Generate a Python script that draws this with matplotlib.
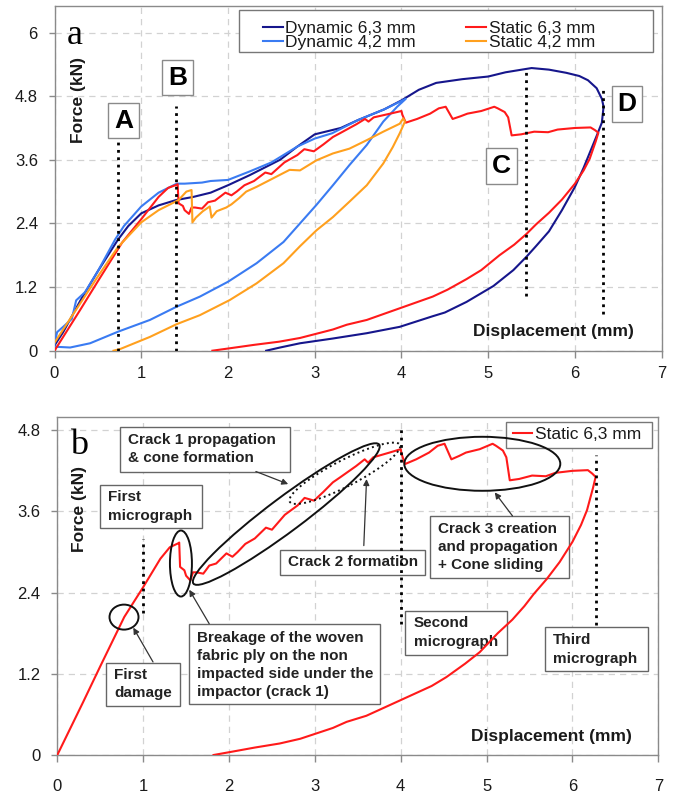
import matplotlib
matplotlib.use('Agg')
import matplotlib.pyplot as plt
import matplotlib.transforms as mtransforms
from matplotlib.patches import Ellipse, Rectangle

plt.rcParams['font.family'] = ['Liberation Sans', 'DejaVu Sans']

# ---------------- data ----------------
dyn63_disp = [0, 0.1, 0.3, 0.5, 0.73, 0.85, 1.0, 1.2, 1.4, 1.6, 1.8, 2.0, 2.25, 2.6, 2.8, 3.0,
              3.3, 3.5, 3.8, 4.0, 4.2, 4.4, 4.7, 5.0, 5.2, 5.5, 5.7, 5.9, 6.05, 6.15, 6.25,
              6.31, 6.33, 6.31, 6.25, 6.2, 6.1, 6.0, 5.85, 5.7, 5.55, 5.44, 5.29, 5.06, 4.75,
              4.5, 4.36, 3.98, 3.6, 3.21, 2.83, 2.6, 2.44]
dyn63_force = [0.1, 0.35, 0.95, 1.5, 2.09, 2.35, 2.59, 2.74, 2.84, 2.9, 2.98, 3.12, 3.31, 3.6, 3.85, 4.08,
               4.2, 4.35, 4.55, 4.72, 4.92, 5.05, 5.12, 5.17, 5.25, 5.33, 5.3, 5.24, 5.18, 5.1, 4.95,
               4.75, 4.6, 4.3, 4.05, 3.85, 3.45, 3.09, 2.65, 2.25, 1.97, 1.77, 1.52, 1.22, 0.92,
               0.72, 0.65, 0.45, 0.33, 0.23, 0.14, 0.06, 0.0]

dyn42_disp = [0, 0.03, 0.1, 0.2, 0.25, 0.35, 0.5, 0.7, 0.8, 1.0, 1.2, 1.41, 1.5, 1.7, 1.8, 2.0,
              2.25, 2.5, 2.8, 3.0, 3.2, 3.5, 3.8, 4.05,
              3.95, 3.79, 3.60, 3.40, 3.21, 3.02, 2.83, 2.64, 2.33, 2.0, 1.676, 1.408, 1.10,
              0.735, 0.41, 0.18, 0.006]
dyn42_force = [0.12, 0.35, 0.45, 0.6, 0.95, 1.1, 1.5, 2.1, 2.35, 2.72, 2.98, 3.15, 3.15, 3.17, 3.2, 3.22,
               3.38, 3.55, 3.85, 4.0, 4.1, 4.35, 4.55, 4.75,
               4.6, 4.32, 3.88, 3.50, 3.12, 2.75, 2.40, 2.05, 1.65, 1.30, 1.02, 0.83, 0.58,
               0.36, 0.14, 0.06, 0.075]

sta63_disp = [0, 0.3, 0.5, 0.78, 1.0, 1.2, 1.31, 1.41, 1.42, 1.43, 1.48, 1.5, 1.55, 1.58, 1.62, 1.7,
              1.73, 1.77, 1.85, 1.97, 2.04, 2.1, 2.19, 2.3, 2.43, 2.5, 2.65, 2.8, 2.88, 2.99, 3.1,
              3.21, 3.29, 3.48, 3.58, 3.62, 3.68, 3.87, 4.0, 4.01, 4.05, 4.18, 4.33, 4.43, 4.51,
              4.59, 4.68, 4.76, 4.92, 5.07, 5.11, 5.19, 5.23, 5.27, 5.38, 5.53, 5.69, 5.8, 6.0,
              6.18, 6.23, 6.27, 6.24, 6.17, 6.1, 6.0, 5.85, 5.7, 5.55, 5.44, 5.3, 5.13, 4.92,
              4.75, 4.53, 4.36, 3.98, 3.6, 3.37, 3.21, 2.83, 2.59, 2.3, 2.04, 1.82]
sta63_force = [0, 0.78, 1.31, 2.04, 2.48, 2.9, 3.07, 3.13, 3.14, 2.78, 2.73, 2.65, 2.58, 2.70, 2.70, 2.68,
               2.73, 2.80, 2.83, 2.98, 2.93, 3.0, 3.12, 3.2, 3.36, 3.33, 3.55, 3.69, 3.80, 3.76, 3.89,
               4.03, 4.10, 4.27, 4.37, 4.32, 4.40, 4.47, 4.52, 4.45, 4.30, 4.37, 4.47, 4.57, 4.60,
               4.37, 4.42, 4.47, 4.52, 4.60, 4.57, 4.50, 4.40, 4.06, 4.08, 4.13, 4.12, 4.17, 4.20,
               4.21, 4.16, 4.11, 3.95, 3.62, 3.4, 3.15, 2.85, 2.6, 2.38, 2.2, 2.0, 1.8, 1.52,
               1.35, 1.15, 1.02, 0.8, 0.58, 0.49, 0.4, 0.24, 0.17, 0.11, 0.05, 0.0]

sta42_disp = [0, 0.3, 0.5, 0.73, 1.0, 1.2, 1.43, 1.52, 1.58, 1.59, 1.63, 1.71, 1.79, 1.81, 1.87, 1.98,
              2.04, 2.13, 2.21, 2.33, 2.52, 2.71, 2.83, 3.02, 3.21, 3.40, 3.60, 3.79, 3.98, 4.02,
              4.04, 3.98, 3.90, 3.79, 3.60, 3.40, 3.21, 3.02, 2.83, 2.64, 2.33, 2.02, 1.676,
              1.408, 1.10, 0.755, 0.68]
sta42_force = [0.15, 0.9, 1.4, 1.95, 2.42, 2.65, 2.84, 3.0, 3.03, 2.42, 2.51, 2.63, 2.72, 2.51, 2.63, 2.70,
               2.76, 2.88, 3.0, 3.09, 3.25, 3.41, 3.40, 3.59, 3.72, 3.81, 3.97, 4.13, 4.28, 4.38,
               4.32, 4.10, 3.84, 3.53, 3.12, 2.81, 2.52, 2.27, 1.97, 1.65, 1.27, 0.955, 0.67,
               0.50, 0.26, 0.03, 0.0]

x_ticks = [0, 1, 2, 3, 4, 5, 6, 7]
ya_ticks = [0, 1.2, 2.4, 3.6, 4.8, 6]
ya_labels = ['0', '1.2', '2.4', '3.6', '4.8', '6']
yb_ticks = [0, 1.2, 2.4, 3.6, 4.8]
yb_labels = ['0', '1.2', '2.4', '3.6', '4.8']

labels_a = ['Dynamic 6,3 mm', 'Dynamic 4,2 mm', 'Static 6,3 mm', 'Static 4,2 mm']
colors_a = ['#16168c', '#3a7bf2', '#ff1a1a', '#ffa01e']

# point markers panel a (A, B, C, D)
mark_a_names = ['A', 'B', 'C', 'D']
mark_a_x = [0.73, 1.40, 5.44, 6.32]
mark_a_top = [3.96, 4.61, 5.32, 4.99]
mark_a_bottom = [0.0, 0.0, 1.03, 0.70]
mark_a_label_pos = [(0.795, 4.34), (1.42, 5.15), (5.15, 3.48), (6.60, 4.65)]

# micrograph markers panel b
mark_b_x = [1.0, 4.0, 6.27]
mark_b_top = [3.19, 4.83, 4.44]
mark_b_bottom = [2.10, 1.94, 1.92]

# ---------------- figure ----------------
fig = plt.figure(figsize=(6.82, 7.94), dpi=100)
axa = fig.add_axes([54.5 / 682, 1 - 350.7 / 794, 607.2 / 682, 344.7 / 794])
axb = fig.add_axes([57.3 / 682, 1 - 755 / 794, 601 / 682, 338.3 / 794])

TXT = '#1a1a1a'


def style(ax, ymax, yt, yl, xpad):
    ax.set_xlim(0, 7)
    ax.set_ylim(0, ymax)
    ax.set_xticks(x_ticks)
    ax.set_xticklabels([str(v) for v in x_ticks])
    ax.set_yticks(yt)
    ax.set_yticklabels(yl)
    ax.grid(True, color='#d2d2d2', linestyle=(0, (5, 4)), linewidth=0.9)
    ax.set_axisbelow(True)
    for s in ax.spines.values():
        s.set_color('#8a8a8a')
        s.set_linewidth(1.0)
    ax.tick_params(axis='x', direction='out', length=5, width=1, color='#8a8a8a',
                   pad=xpad, labelsize=12, labelcolor=TXT)
    ax.tick_params(axis='y', direction='out', length=4, width=1, color='#8a8a8a',
                   pad=8, labelsize=12, labelcolor=TXT)


style(axa, 6.5, ya_ticks, ya_labels, 6)
style(axb, 5.0, yb_ticks, yb_labels, 12)

# ---- panel a curves ----
series = [(dyn63_disp, dyn63_force), (dyn42_disp, dyn42_force),
          (sta63_disp, sta63_force), (sta42_disp, sta42_force)]
handles = []
for (xs, ys), lab, col in zip(series, labels_a, colors_a):
    h, = axa.plot(xs, ys, color=col, lw=1.5, label=lab, zorder=3)
    handles.append(h)

for x, t, b in zip(mark_a_x, mark_a_top, mark_a_bottom):
    axa.plot([x, x], [b, t], color='black', lw=2, linestyle=':', zorder=4)
for name, (lx, ly) in zip(mark_a_names, mark_a_label_pos):
    axa.text(lx, ly, name, fontsize=19, fontweight='bold', ha='center', va='center', color='black',
             zorder=6, bbox=dict(boxstyle='square,pad=0.22', fc='white', ec='#8a8a8a', lw=1))

axa.add_patch(Rectangle((0.304, 0.867), 0.681, 0.121, transform=axa.transAxes,
                        fc='white', ec='#777777', lw=1, zorder=5))
leg = axa.legend(handles=handles, ncol=2, loc='upper left', bbox_to_anchor=(0.343, 0.957),
                 frameon=False, fontsize=12.5, handlelength=1.15, handletextpad=0.15,
                 columnspacing=2.9, labelspacing=-0.06, borderpad=0, borderaxespad=0)
leg.set_zorder(6)
for t in leg.get_texts():
    t.set_color(TXT)

axa.text(0.274, 4.72, 'Force (kN)', rotation=90, ha='center', va='center',
         fontsize=12.5, fontweight='bold', color=TXT)
axa.text(5.75, 0.36, 'Displacement (mm)', ha='center', va='center',
         fontsize=12.5, fontweight='bold', color=TXT)
axa.text(0.236, 5.79, 'a', fontsize=26, family=['Liberation Serif', 'DejaVu Serif'],
         ha='center', va='baseline', color='black')

# ---- panel b ----
hb, = axb.plot(sta63_disp, sta63_force, color=colors_a[2], lw=1.5, label=labels_a[2], zorder=3)
for x, t, b in zip(mark_b_x, mark_b_top, mark_b_bottom):
    axb.plot([x, x], [b, t], color='black', lw=2, linestyle=':', zorder=4)

axb.add_patch(Rectangle((0.7466, 0.9066), 0.2424, 0.0784, transform=axb.transAxes,
                        fc='white', ec='#777777', lw=1, zorder=5))
legb = axb.legend(handles=[hb], loc='upper left', bbox_to_anchor=(0.759, 0.970), frameon=False,
                  fontsize=12.5, handlelength=1.05, handletextpad=0.17, borderpad=0, borderaxespad=0)
legb.set_zorder(6)
for t in legb.get_texts():
    t.set_color(TXT)

axb.text(0.26, 3.63, 'Force (kN)', rotation=90, ha='center', va='center',
         fontsize=12.5, fontweight='bold', color=TXT)
axb.text(5.75, 0.28, 'Displacement (mm)', ha='center', va='center',
         fontsize=12.5, fontweight='bold', color=TXT)
axb.text(0.253, 4.45, 'b', fontsize=26, family=['Liberation Serif', 'DejaVu Serif'],
         ha='center', va='baseline', color='black')

# annotation boxes: (x0, x1, y_bottom, y_top, text_x, [line ys], lines)
notes = [
    (0.730, 2.709, 4.190, 4.849, 0.820, [4.653, 4.388], ['Crack 1 propagation', '& cone formation']),
    (0.497, 1.688, 3.356, 3.994, 0.587, [3.817, 3.533], ['First', 'micrograph']),
    (0.567, 1.428, 0.722, 1.360, 0.664, [1.179, 0.909], ['First', 'damage']),
    (1.537, 3.757, 0.747, 1.941, 1.630, [1.735, 1.464, 1.204, 0.933],
     ['Breakage of the woven', 'fabric ply on the non', 'impacted side under the', 'impactor (crack 1)']),
    (2.593, 4.280, 2.663, 3.036, 2.689, [2.849], ['Crack 2 formation']),
    (4.048, 5.239, 1.484, 2.127, 4.152, [1.956, 1.670], ['Second', 'micrograph']),
    (4.342, 5.960, 2.619, 3.533, 4.436, [3.341, 3.070, 2.811],
     ['Crack 3 creation', 'and propagation', '+ Cone sliding']),
    (5.686, 6.880, 1.238, 1.891, 5.774, [1.695, 1.425], ['Third', 'micrograph']),
]
for x0, x1, y0, y1, tx, tys, lines in notes:
    axb.add_patch(Rectangle((x0, y0), x1 - x0, y1 - y0, fc='white', ec='#666666', lw=1, zorder=1.5))
    for ty, line in zip(tys, lines):
        axb.text(tx, ty, line, fontsize=11, fontweight='bold', color='#222222',
                 ha='left', va='center', zorder=1.6)

# ellipses (center in data units, size in output pixels)
def ellipse(ax, cx, cy, w, h, ang, ls='-'):
    tr = mtransforms.Affine2D() + mtransforms.ScaledTranslation(cx, cy, ax.transData)
    ax.add_patch(Ellipse((0, 0), w, h, angle=ang, transform=tr, fill=False,
                         edgecolor='#111111', lw=1.4, linestyle=ls, zorder=6))

ellipse(axb, 0.777, 2.038, 29, 25, 0)
ellipse(axb, 1.440, 2.830, 22, 66, 0)
ellipse(axb, 2.667, 3.561, 232, 34, 36.8)
ellipse(axb, 3.349, 4.164, 124, 26, 27.3, ':')
ellipse(axb, 4.950, 4.304, 156, 54, 0)

arrows = [((1.115, 1.375), (0.885, 1.882)),
          ((1.769, 1.941), (1.537, 2.442)),
          ((2.313, 4.190), (2.689, 4.004)),
          ((3.570, 3.095), (3.602, 4.078)),
          ((5.302, 3.533), (5.095, 3.881))]
for tail, head in arrows:
    axb.annotate('', xy=head, xytext=tail,
                 arrowprops=dict(arrowstyle='-|>', color='#333333', lw=0.9,
                                 mutation_scale=9, shrinkA=0, shrinkB=0), zorder=6)

fig.savefig('out.png', dpi=100)
